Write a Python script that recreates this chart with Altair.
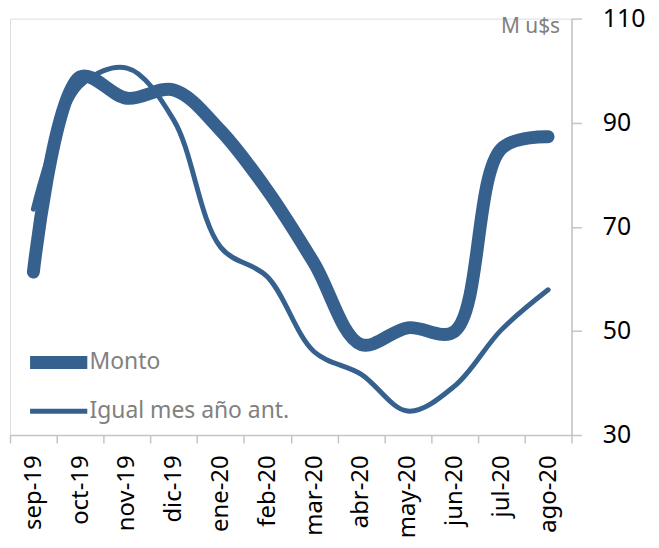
import altair as alt
import pandas as pd

months = ["sep-19", "oct-19", "nov-19", "dic-19", "ene-20", "feb-20",
          "mar-20", "abr-20", "may-20", "jun-20", "jul-20", "ago-20"]
monto = [61.3, 98.8, 94.7, 96.3, 88.5, 77.0, 63.0, 47.4, 50.6, 49.9, 85.0, 87.3]
igual = [73.4, 97.0, 100.5, 90.5, 66.1, 60.4, 46.0, 41.7, 34.6, 39.4, 50.2, 57.9]
series = ["Monto", "Igual mes año ant."]
y_ticks = [30, 50, 70, 90, 110]

rows = []
for m, a, b in zip(months, monto, igual):
    rows.append({"mes": m, "serie": series[0], "valor": a})
    rows.append({"mes": m, "serie": series[1], "valor": b})
df = pd.DataFrame(rows)

BLUE = "#36618F"
FONT = "Noto Sans"

leg = dict(title=None, orient="none", legendX=30.5, legendY=327.5,
           symbolType="M-2.4,0H2.4", symbolSize=576, rowPadding=8,
           labelOffset=12.5, labelFontSize=23, labelColor="#808080",
           labelFont=FONT, labelLimit=0)

chart = alt.Chart(df).mark_line(
    interpolate="catmull-rom", strokeCap="round", strokeJoin="round"
).encode(
    x=alt.X("mes:N", sort=months, scale=alt.Scale(paddingInner=0, paddingOuter=0),
            axis=alt.Axis(title=None, labelAngle=-90, labelFontSize=24, labelColor="black",
                          labelFont=FONT, domainColor="#C4C4C4", domainWidth=1.5,
                          tickColor="#C4C4C4", tickWidth=1.5, tickSize=8, tickBand="extent",
                          labelPadding=12, grid=False)),
    y=alt.Y("valor:Q", scale=alt.Scale(domain=[30, 110], nice=False, zero=False),
            axis=alt.Axis(orient="right", values=y_ticks, labelFontSize=25, labelColor="black",
                          labelFont=FONT, domainColor="#C4C4C4", domainWidth=1.5,
                          tickColor="#C4C4C4", tickWidth=1.5, tickSize=10, labelPadding=21,
                          grid=False, title="M u$s", titleAngle=0, titleAlign="right",
                          titleBaseline="middle", titleX=-12, titleY=8, titleColor="#808080",
                          titleFontSize=21, titleFontWeight="normal", titleFont=FONT)),
    color=alt.Color("serie:N", sort=series,
                    scale=alt.Scale(domain=series, range=[BLUE, BLUE]),
                    legend=alt.Legend(**leg)),
    strokeWidth=alt.StrokeWidth("serie:N", sort=series,
                                scale=alt.Scale(domain=series, range=[13, 5]),
                                legend=alt.Legend(**leg)),
    detail="serie:N",
).properties(
    width=565, height=419,
    padding={"left": 2, "top": 9, "right": 80, "bottom": 110},
    autosize=alt.AutoSizeParams(type="none"),
).configure_view(stroke=None).configure(background="white")

chart.save("out.html", embed_options={"renderer": "svg", "actions": False})
